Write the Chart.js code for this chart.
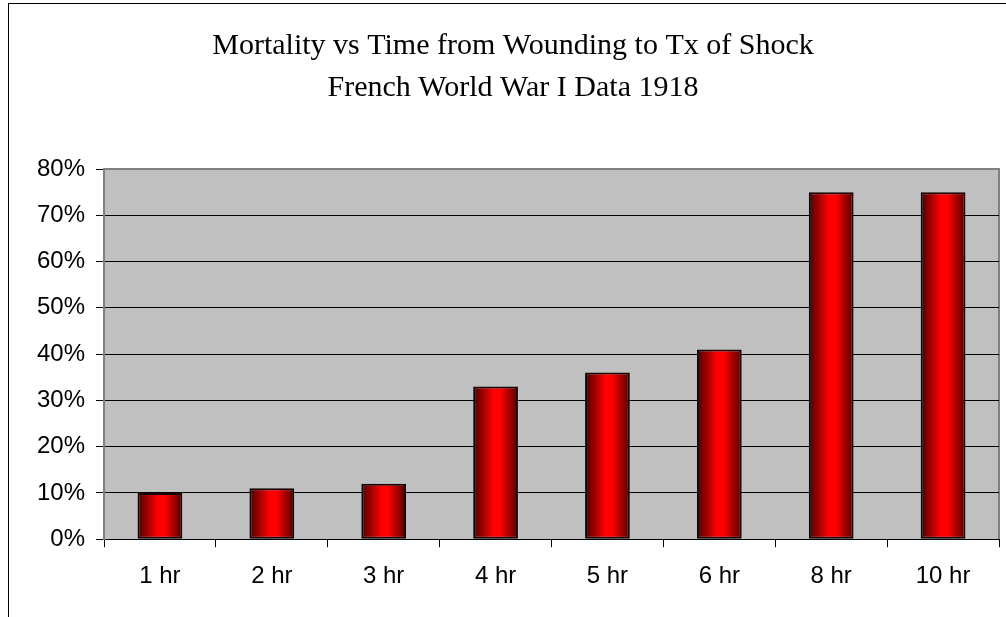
<!DOCTYPE html>
<html>
<head>
<meta charset="UTF-8">
<title>Mortality vs Time from Wounding to Tx of Shock</title>
<script src="https://cdn.jsdelivr.net/npm/chart.js"></script>
<style>
    body { margin: 0; background: #fff; overflow: hidden; }
    .frame {
        position: absolute;
        left: 8px;
        top: 3px;
        width: 1200px;
        height: 800px;
        border-left: 1px solid #000;
        border-top: 1px solid #000;
    }
    .wrap { position: absolute; left: 0; top: 0; width: 1006px; height: 617px; }
</style>
</head>
<body>
<div class="frame"></div>
<div class="wrap"><canvas id="chart"></canvas></div>
<script>
    const hours = ['1 hr', '2 hr', '3 hr', '4 hr', '5 hr', '6 hr', '8 hr', '10 hr'];
    const mortality = [10, 11, 12, 33, 36, 41, 75, 75];
    const titleLines = ['Mortality vs Time from Wounding to Tx of Shock', 'French World War I Data 1918'];

    const catPct = 0.8, barPct = 0.5;

    // gray plot area with gray top/right frame
    const plotBg = {
        id: 'plotBg',
        beforeDraw(chart) {
            const a = chart.chartArea, ctx = chart.ctx;
            ctx.save();
            ctx.fillStyle = '#c0c0c0';
            ctx.fillRect(a.left, a.top, a.right - a.left, a.bottom - a.top);
            ctx.strokeStyle = '#808080';
            ctx.lineWidth = 2;
            ctx.beginPath();
            ctx.moveTo(a.left, a.top);
            ctx.lineTo(a.right, a.top);
            ctx.lineTo(a.right, a.bottom);
            ctx.stroke();
            ctx.restore();
        }
    };

    function barFill(c) {
        const xs = c.chart.scales.x;
        if (c.type !== 'data' || !xs) return '#ff0000';
        const cx = xs.getPixelForValue(c.dataIndex);
        const w = xs.width / hours.length * catPct * barPct;
        if (!isFinite(cx) || !isFinite(w) || w <= 0) return '#ff0000';
        const g = c.chart.ctx.createLinearGradient(cx - w / 2, 0, cx + w / 2, 0);
        g.addColorStop(0, '#4a0000');
        g.addColorStop(0.45, '#ff0000');
        g.addColorStop(0.6, '#ff0000');
        g.addColorStop(1, '#4a0000');
        return g;
    }

    new Chart(document.getElementById('chart'), {
        type: 'bar',
        data: {
            labels: hours,
            datasets: [{
                data: mortality,
                backgroundColor: barFill,
                borderColor: '#1a0000',
                borderWidth: 2,
                borderSkipped: false,
                categoryPercentage: catPct,
                barPercentage: barPct
            }]
        },
        plugins: [plotBg],
        options: {
            responsive: true,
            maintainAspectRatio: false,
            animation: false,
            layout: { padding: { left: 27, right: 7, top: 0, bottom: 11 } },
            plugins: {
                legend: { display: false },
                tooltip: { enabled: false },
                title: {
                    display: true,
                    text: titleLines,
                    color: '#000',
                    font: { family: 'Liberation Serif, Times New Roman, serif', size: 30, weight: 'normal', lineHeight: 1.4 },
                    padding: { top: 25, bottom: 60 }
                }
            },
            scales: {
                x: {
                    grid: { drawOnChartArea: false, drawTicks: true, tickLength: 8, tickColor: '#000', offset: true },
                    border: { color: '#000', width: 1 },
                    ticks: {
                        color: '#000',
                        padding: 15,
                        font: { family: 'Liberation Sans, Arial, sans-serif', size: 24 }
                    }
                },
                y: {
                    min: 0,
                    max: 80,
                    afterFit(scale) { scale.width = 77; },
                    grid: {
                        color: c => c.tick && c.tick.value === 80 ? '#808080' : '#000',
                        tickColor: '#000',
                        tickLength: 8,
                        lineWidth: 1
                    },
                    border: { color: '#808080', width: 2 },
                    ticks: {
                        stepSize: 10,
                        color: '#000',
                        padding: 11,
                        font: { family: 'Liberation Sans, Arial, sans-serif', size: 24 },
                        callback: v => v + '%'
                    }
                }
            }
        }
    });
</script>
</body>
</html>
